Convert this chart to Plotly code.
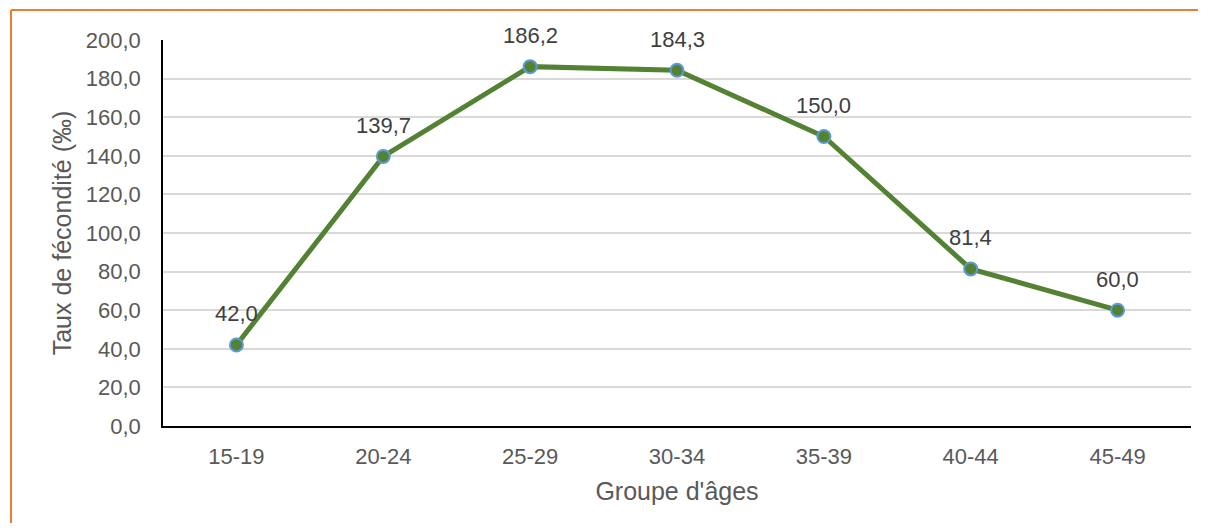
import plotly.graph_objects as go

# données
groupes = ["15-19", "20-24", "25-29", "30-34", "35-39", "40-44", "45-49"]
taux = [42.0, 139.7, 186.2, 184.3, 150.0, 81.4, 60.0]
y_ticks = [0, 20, 40, 60, 80, 100, 120, 140, 160, 180, 200]

gris = "#595959"
police = "Liberation Sans, Arial, sans-serif"

fig = go.Figure()
fig.add_trace(go.Scatter(
    x=groupes, y=taux,
    mode="lines+markers",
    line=dict(color="#548235", width=5),
    marker=dict(size=13, color="#548235", line=dict(color="#5B9BD5", width=2)),
    showlegend=False,
))

# étiquettes de données
for g, v in zip(groupes, taux):
    fig.add_annotation(x=g, y=v, text=f"{v:.1f}".replace(".", ","),
                       showarrow=False, yshift=31, yanchor="middle",
                       font=dict(size=22, color="#404040", family=police))

# cadre orange (coupé)
x0 = (3 - 155) / 1028
y0 = (418 - 2) / 386
fig.add_shape(type="line", xref="paper", yref="paper", x0=x0, x1=x0, y0=y0, y1=-0.4,
              line=dict(color="#ED7D31", width=2))
fig.add_shape(type="line", xref="paper", yref="paper", x0=x0, x1=1.1, y0=y0, y1=y0,
              line=dict(color="#ED7D31", width=2))

fig.update_layout(
    width=1190, height=515,
    margin=dict(l=155, r=7, t=32, b=97),
    paper_bgcolor="white", plot_bgcolor="white",
    separators=", ",
    font=dict(family=police, color=gris, size=22),
    xaxis=dict(
        type="category", range=[-0.5, 6.5],
        showline=True, linecolor="black", linewidth=1.5,
        showgrid=False, ticks="outside", ticklen=10, tickcolor="rgba(0,0,0,0)",
        tickfont=dict(size=22, color=gris),
        title=dict(text="Groupe d'âges", font=dict(size=25, color=gris), standoff=14),
    ),
    yaxis=dict(
        range=[0, 200], tickvals=y_ticks, tickformat=".1f",
        showline=True, linecolor="black", linewidth=1.5,
        gridcolor="#D9D9D9", gridwidth=1.5,
        zeroline=False, ticks="outside", ticklen=16, tickcolor="rgba(0,0,0,0)",
        tickfont=dict(size=22, color=gris),
        title=dict(text="Taux de fécondité (‰)", font=dict(size=25, color=gris), standoff=7),
    ),
)

fig.write_html("out.html")
